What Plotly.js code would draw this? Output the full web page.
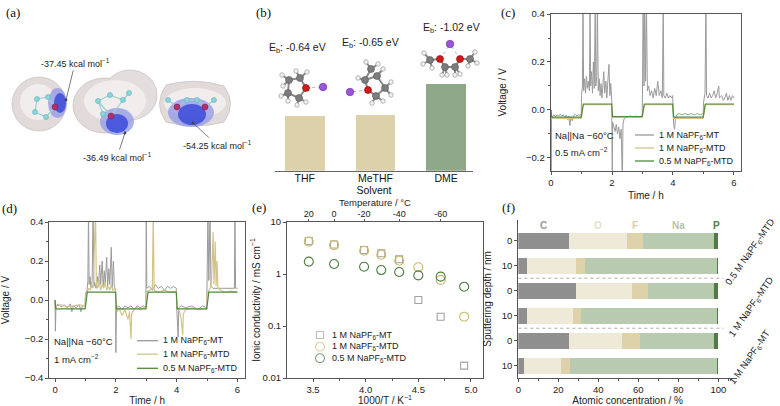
<!DOCTYPE html>
<html><head><meta charset="utf-8">
<script src="https://cdn.plot.ly/plotly-3.0.1.min.js"></script>
<style>html,body{margin:0;padding:0;background:#fff}#chart{width:780px;height:406px}</style>
</head><body><div id="chart"></div>
<script>
// ---------------- DATA ----------------
// (b) binding energies
const solvents = ['THF', 'MeTHF', 'DME'];
const bindingEnergy = [-0.64, -0.65, -1.02];

// series names
const seriesNames = ['1 M NaPF<sub>6</sub>-MT', '1 M NaPF<sub>6</sub>-MTD', '0.5 M NaPF<sub>6</sub>-MTD'];

// (c) Na||Na, 0.5 mA cm-2 : [time h, voltage V]
const c_MT = [[0,0],[0.005,-0.3],[0.015,-0.04],[0.05,-0.025],[0.1,-0.02],[0.15,-0.028],[0.2,-0.02],[0.25,-0.025],[0.3,-0.018],[0.35,-0.025],[0.4,-0.02],[0.45,-0.03],[0.5,-0.022],[0.55,-0.04],[0.58,-0.025],[0.62,-0.065],[0.65,-0.03],[0.7,-0.045],[0.75,-0.022],[0.8,-0.018],[0.85,-0.025],[0.9,-0.02],[0.95,-0.022],[0.99,-0.02],
 [1.0,0.06],[1.03,0.1],[1.05,0.45],[1.07,0.08],[1.1,0.13],[1.13,0.07],[1.16,0.14],[1.19,0.09],[1.22,0.12],[1.26,0.08],[1.28,0.45],[1.3,0.1],[1.33,0.16],[1.36,0.07],[1.39,0.2],[1.42,0.09],[1.45,0.45],[1.47,0.1],[1.5,0.14],[1.52,0.45],[1.55,0.08],[1.58,0.13],[1.61,0.06],[1.64,0.11],[1.67,0.05],[1.7,0.1],[1.73,0.16],[1.76,0.07],[1.8,0.12],[1.83,0.05],[1.86,0.1],[1.9,0.19],[1.93,0.06],[1.96,0.11],[1.99,0.04],
 [2.0,-0.3],[2.01,-0.3],[2.02,-0.05],[2.06,-0.07],[2.1,-0.09],[2.14,-0.06],[2.18,-0.1],[2.22,-0.07],[2.26,-0.12],[2.3,-0.08],[2.34,-0.3],[2.36,-0.06],[2.4,-0.035],[2.5,-0.03],[2.6,-0.025],[2.7,-0.03],[2.8,-0.025],[2.9,-0.03],[2.99,-0.025],
 [3.0,0.08],[3.02,0.45],[3.05,0.1],[3.07,0.45],[3.1,0.12],[3.13,0.45],[3.16,0.08],[3.2,0.1],[3.25,0.06],[3.3,0.08],[3.35,0.05],[3.4,0.09],[3.45,0.06],[3.5,0.12],[3.55,0.06],[3.6,0.08],[3.65,0.05],[3.68,0.45],[3.7,0.06],[3.75,0.05],[3.8,0.07],[3.85,0.05],[3.9,0.06],[3.95,0.05],[3.99,0.06],
 [4.0,-0.02],[4.02,-0.06],[4.05,-0.08],[4.08,-0.04],[4.12,-0.02],[4.2,-0.015],[4.3,-0.02],[4.4,-0.015],[4.5,-0.02],[4.6,-0.015],[4.7,-0.02],[4.8,-0.015],[4.9,-0.02],[4.99,-0.015],
 [5.0,0.03],[5.05,0.07],[5.08,0.45],[5.1,0.06],[5.15,0.05],[5.2,0.07],[5.25,0.05],[5.3,0.06],[5.35,0.08],[5.4,0.05],[5.45,0.07],[5.5,0.1],[5.52,0.05],[5.6,0.06],[5.65,0.04],[5.7,0.05],[5.75,0.07],[5.8,0.04],[5.85,0.06],[5.9,0.04],[5.95,0.06],[6.0,0.05]];
const c_MTD = [[0,0],[0.02,-0.035],[0.99,-0.035],[1.02,0.0],[1.06,0.022],[1.99,0.022],[2.02,-0.03],[2.99,-0.03],[3.02,0.0],[3.06,0.022],[3.99,0.022],[4.02,-0.035],[4.99,-0.035],[5.02,0.0],[5.06,0.022],[6.0,0.022]];
const c_05MTD = [[0,0],[0.02,-0.03],[0.99,-0.03],[1.02,0.005],[1.06,0.025],[1.99,0.025],[2.02,-0.028],[2.99,-0.028],[3.02,0.005],[3.06,0.025],[3.99,0.025],[4.02,-0.03],[4.99,-0.03],[5.02,0.005],[5.06,0.025],[6.0,0.025]];

// (d) Na||Na, 1 mA cm-2 : [time h, voltage V]
const d_MT = [[0,0],[0.01,-0.16],[0.03,-0.03],[0.1,-0.02],[0.2,-0.035],[0.3,-0.025],[0.4,-0.04],[0.5,-0.02],[0.55,-0.06],[0.6,-0.03],[0.7,-0.04],[0.8,-0.025],[0.85,-0.06],[0.9,-0.03],[0.99,-0.03],
 [1.0,0.03],[1.05,0.05],[1.08,0.1],[1.1,0.45],[1.12,0.08],[1.15,0.12],[1.18,0.06],[1.22,0.1],[1.25,0.45],[1.28,0.07],[1.3,0.09],[1.35,0.06],[1.4,0.12],[1.43,0.07],[1.47,0.18],[1.5,0.08],[1.55,0.2],[1.58,0.07],[1.62,0.15],[1.65,0.08],[1.7,0.22],[1.73,0.07],[1.77,0.16],[1.8,0.08],[1.85,0.27],[1.88,0.06],[1.92,0.2],[1.95,0.07],[1.99,0.05],
 [2.0,-0.27],[2.02,-0.04],[2.1,-0.03],[2.2,-0.05],[2.3,-0.03],[2.4,-0.04],[2.5,-0.03],[2.6,-0.05],[2.7,-0.03],[2.8,-0.04],[2.9,-0.03],[2.99,-0.04],
 [3.0,0.45],[3.02,0.06],[3.1,0.07],[3.2,0.05],[3.3,0.08],[3.4,0.06],[3.5,0.07],[3.6,0.05],[3.7,0.07],[3.8,0.06],[3.9,0.07],[3.99,0.06],
 [4.0,-0.03],[4.05,-0.19],[4.07,-0.04],[4.15,-0.03],[4.3,-0.04],[4.5,-0.03],[4.7,-0.05],[4.85,-0.03],[4.99,-0.04],
 [5.0,0.05],[5.03,0.45],[5.06,0.1],[5.1,0.45],[5.13,0.07],[5.2,0.06],[5.5,0.06],[5.9,0.06],[5.92,0.45],[5.94,0.06],[6.0,0.06]];
const d_MTD = [[0,0],[0.01,-0.05],[0.03,-0.03],[0.2,-0.025],[0.4,-0.035],[0.6,-0.03],[0.8,-0.025],[0.99,-0.03],
 [1.0,0.02],[1.05,0.04],[1.1,0.06],[1.15,0.05],[1.2,0.08],[1.25,0.06],[1.3,0.45],[1.33,0.45],[1.36,0.08],[1.4,0.06],[1.45,0.1],[1.5,0.05],[1.55,0.08],[1.6,0.06],[1.65,0.09],[1.7,0.05],[1.75,0.07],[1.8,0.05],[1.85,0.08],[1.9,0.05],[1.99,0.06],
 [2.0,-0.03],[2.05,-0.06],[2.1,-0.04],[2.2,-0.08],[2.3,-0.05],[2.4,-0.1],[2.45,-0.06],[2.5,-0.2],[2.52,-0.07],[2.6,-0.05],[2.7,-0.04],[2.8,-0.05],[2.9,-0.04],[2.99,-0.04],
 [3.0,0.04],[3.1,0.05],[3.2,0.06],[3.23,0.45],[3.26,0.05],[3.4,0.04],[3.6,0.05],[3.8,0.04],[3.99,0.045],
 [4.0,-0.03],[4.1,-0.06],[4.15,-0.1],[4.2,-0.18],[4.22,-0.07],[4.3,-0.05],[4.5,-0.04],[4.7,-0.05],[4.99,-0.045],
 [5.0,0.03],[5.1,0.06],[5.15,0.1],[5.2,0.35],[5.23,0.08],[5.27,0.3],[5.3,0.07],[5.33,0.2],[5.36,0.06],[5.45,0.05],[5.6,0.04],[5.8,0.045],[6.0,0.04]];
const d_05MTD = [[0,0],[0.02,-0.045],[0.99,-0.045],[1.02,0.0],[1.06,0.04],[1.99,0.04],[2.02,-0.045],[2.99,-0.045],[3.02,0.0],[3.06,0.04],[3.99,0.04],[4.02,-0.045],[4.99,-0.045],[5.02,0.0],[5.06,0.04],[6.0,0.04]];

// (e) ionic conductivity
const temperatureC = [20, 0, -20, -30, -40, -50, -60, -70];
const invT = [3.46, 3.70, 3.985, 4.148, 4.318, 4.50, 4.712, 4.935]; // 1000/T, K^-1
const sigma_MT = [4.3, 3.7, 2.9, 2.5, 1.92, 0.316, 0.151, 0.0173];
const sigma_MTD = [4.2, 3.6, 2.8, 2.35, 1.8, 1.35, 0.77, 0.151];
const sigma_05MTD = [1.73, 1.56, 1.38, 1.19, 1.09, 0.94, 0.89, 0.57];
const topTickTemps = [20, 0, -20, -40, -60];

// (f) XPS depth profile, atomic concentration %
const samples = ['0.5 M NaPF<sub>6</sub>-MTD', '1 M NaPF<sub>6</sub>-MTD', '1 M NaPF<sub>6</sub>-MT'];
const depths = ['0', '10'];
const elements = ['C', 'O', 'F', 'Na', 'P'];
const conc_C  = [25.5, 4.2, 28.8, 4.2, 25.3, 2.8];
const conc_O  = [28.7, 24.5, 27.9, 23.3, 26.7, 18.4];
const conc_F  = [8.0, 4.6, 8.0, 3.7, 8.8, 4.6];
const conc_Na = [35.8, 65.9, 33.3, 68.0, 37.2, 73.4];
const conc_P  = [2.0, 0.8, 2.0, 0.8, 2.0, 0.8];

// ---------------- STYLE ----------------
const FONT = 'Liberation Sans, Arial, Helvetica, sans-serif';
const SERIF = 'Liberation Serif, Times New Roman, serif';
const W = 780, H = 406;
const GRAY = '#9a9a9a', TAN = '#d3c48a', GREEN = '#4f8a3c';
const lineColors = [GRAY, TAN, GREEN];
const markColors = ['#a3a3a3', '#cdb96e', '#4c7c40'];
const elemColors = ['#8f8f8f', '#efe9d8', '#ddd2aa', '#b8caaf', '#4f7d45'];
const elemTextColors = ['#9a9a9a', '#e6dfc6', '#d8cca2', '#b3c4a8', '#4f7d45'];
const AX = '#555';
const px2x = p => p / W;
const py2y = p => 1 - p / H;

const baseAxis = {
  showline: true, linecolor: AX, linewidth: 1, mirror: true,
  ticks: 'outside', ticklen: 3, tickcolor: AX, tickwidth: 1,
  showgrid: false, zeroline: false,
  tickfont: {family: FONT, size: 9.5, color: '#222'},
  title: {font: {family: FONT, size: 10, color: '#222'}}
};
function ax(extra) {
  const o = JSON.parse(JSON.stringify(baseAxis));
  for (const k in extra) {
    if (k === 'title') o.title = Object.assign(o.title, extra.title);
    else o[k] = extra[k];
  }
  return o;
}

const traces = [];
// ---- (b) bars
traces.push({
  type: 'bar', x: solvents, y: bindingEnergy.map(Math.abs),
  marker: {color: ['#dcd1aa', '#dcd1aa', '#8fa88a'], line: {width: 0}},
  width: 0.56, xaxis: 'x', yaxis: 'y', showlegend: false, name: 'E_b'
});

// ---- (c), (d) voltage profiles
const cSeries = [c_MT, c_MTD, c_05MTD];
const dSeries = [d_MT, d_MTD, d_05MTD];
cSeries.forEach((s, i) => traces.push({
  type: 'scatter', mode: 'lines', x: s.map(p => p[0]), y: s.map(p => p[1]),
  line: {color: lineColors[i], width: i === 0 ? 1 : 1.2}, xaxis: 'x2', yaxis: 'y2', name: seriesNames[i], showlegend: false
}));
dSeries.forEach((s, i) => traces.push({
  type: 'scatter', mode: 'lines', x: s.map(p => p[0]), y: s.map(p => p[1]),
  line: {color: lineColors[i], width: i === 0 ? 1 : 1.2}, xaxis: 'x3', yaxis: 'y3', name: seriesNames[i], showlegend: false
}));

// ---- (e) conductivity
const eSeries = [sigma_MT, sigma_MTD, sigma_05MTD];
const eSymbols = ['square-open', 'circle-open', 'circle-open'];
const eSizes = [7, 9, 9];
eSeries.forEach((s, i) => traces.push({
  type: 'scatter', mode: 'markers', x: invT, y: s,
  marker: {symbol: eSymbols[i], size: eSizes[i], color: markColors[i], line: {width: 1.1, color: markColors[i]}},
  xaxis: 'x4', yaxis: 'y4', name: seriesNames[i], showlegend: false
}));
// carrier trace so the top temperature axis is drawn
traces.push({type: 'scatter', mode: 'markers', x: invT, y: sigma_05MTD, marker: {opacity: 0, size: 1},
  xaxis: 'x5', yaxis: 'y4', showlegend: false, hoverinfo: 'skip', name: 'Temperature'});

// ---- (f) stacked horizontal bars
const rowIds = [];
samples.forEach((s, si) => depths.forEach(d => rowIds.push(si + '|' + d)));
const concs = [conc_C, conc_O, conc_F, conc_Na, conc_P];
concs.forEach((c, i) => traces.push({
  type: 'bar', orientation: 'h', y: rowIds, x: c, width: 0.65,
  marker: {color: elemColors[i], line: {width: 0}},
  xaxis: 'x6', yaxis: 'y6', name: elements[i], showlegend: false
}));

// ---- illustrations (pixel overlay axis x7/y7)
const molTHF = [[306,88,'O'],[300,78,'C'],[289,80,'C'],[288,93,'C'],[299,98,'C'],[296,71,'H'],[307,72,'H'],[282,75,'H'],[283,86,'H'],[281,96,'H'],[288,101,'H'],[297,105,'H'],[306,102,'H'],[323,87,'Na']];
const bondTHF = [[0,1],[1,2],[2,3],[3,4],[4,0],[1,5],[1,6],[2,7],[2,8],[3,9],[3,10],[4,11],[4,12]];
const molMe = [[368,90,'O'],[365,80,'C'],[377,76,'C'],[385,88,'C'],[376,96,'C'],[371,69,'C'],[366,62,'H'],[378,64,'H'],[358,78,'H'],[383,69,'H'],[391,82,'H'],[391,95,'H'],[372,103,'H'],[383,101,'H'],[350,92,'Na']];
const bondMe = [[0,1],[1,2],[2,3],[3,4],[4,0],[1,5],[5,6],[5,7],[1,8],[2,9],[3,10],[3,11],[4,12],[4,13]];
const molDME = [[440,59,'O'],[460,59,'O'],[430,60,'C'],[445,67,'C'],[455,67,'C'],[470,59,'C'],[424,53,'H'],[423,64,'H'],[432,68,'H'],[442,75,'H'],[447,75,'H'],[455,75,'H'],[460,74,'H'],[475,52,'H'],[477,63,'H'],[468,66,'H'],[450,44,'Na']];
const bondDME = [[0,2],[0,3],[3,4],[4,1],[1,5],[2,6],[2,7],[2,8],[3,9],[3,10],[4,11],[4,12],[5,13],[5,14],[5,15]];
const naBonds = [[molTHF, 0, 13], [molMe, 0, 14], [molDME, 0, 16], [molDME, 1, 16]];
const espAtoms = [[55,107,'O2'],[48,97,'C2'],[37,99,'C2'],[35,112,'C2'],[46,117,'C2'],
  [111,116,'O2'],[98,101,'C2'],[110,95,'C2'],[123,100,'C2'],[103,114,'C2'],[129,93,'C2'],
  [177,107,'O2'],[205,107,'O2'],[168,100,'C2'],[187,100,'C2'],[197,100,'C2'],[214,100,'C2']];
const espBonds = [[0,1],[1,2],[2,3],[3,4],[4,0],[5,6],[6,7],[7,8],[8,5],[6,9],[9,5],[8,10],[11,13],[11,14],[14,15],[15,12],[12,16]];

function bondTrace(mol, bonds, color, width, dash) {
  const x = [], y = [];
  bonds.forEach(b => { x.push(mol[b[0]][0], mol[b[1]][0], null); y.push(mol[b[0]][1], mol[b[1]][1], null); });
  return {type: 'scatter', mode: 'lines', x, y, line: {color, width, dash: dash || 'solid'}, xaxis: 'x7', yaxis: 'y7', showlegend: false, hoverinfo: 'skip'};
}
traces.push(bondTrace(espAtoms, espBonds, '#9ccfd2', 1.2));
[[molTHF, bondTHF], [molMe, bondMe], [molDME, bondDME]].forEach(m => traces.push(bondTrace(m[0], m[1], '#8a8a8a', 2)));
naBonds.forEach(nb => {
  const m = nb[0];
  traces.push({type: 'scatter', mode: 'lines', x: [m[nb[1]][0], m[nb[2]][0]], y: [m[nb[1]][1], m[nb[2]][1]],
    line: {color: '#b0a0c0', width: 0.8, dash: 'dot'}, xaxis: 'x7', yaxis: 'y7', showlegend: false, hoverinfo: 'skip'});
});
const atomStyle = {
  C: {c: '#7d7d7d', s: 7, l: '#555'}, H: {c: '#f2f2f2', s: 4.5, l: '#888'},
  O: {c: '#d21a1a', s: 7, l: '#8a0000'}, Na: {c: '#9a55d8', s: 7.5, l: '#6a2aa8'},
  C2: {c: '#86d8da', s: 5, l: '#6ab'}, O2: {c: '#b3306f', s: 6, l: '#802050'}
};
Object.keys(atomStyle).forEach(el => {
  const all = molTHF.concat(molMe, molDME, espAtoms).filter(a => a[2] === el);
  const st = atomStyle[el];
  traces.push({type: 'scatter', mode: 'markers', x: all.map(a => a[0]), y: all.map(a => a[1]),
    marker: {color: st.c, size: st.s, line: {color: st.l, width: 0.6}}, xaxis: 'x7', yaxis: 'y7', showlegend: false, hoverinfo: 'skip'});
});
// (e) legend markers
traces.push({type: 'scatter', mode: 'markers', x: [320, 320, 320], y: [335, 346.7, 358.3],
  marker: {symbol: eSymbols, size: eSizes, color: markColors, line: {width: 1.1, color: markColors}},
  xaxis: 'x7', yaxis: 'y7', showlegend: false, hoverinfo: 'skip'});

// ---------------- LAYOUT ----------------
const shapes = [];
const annotations = [];
function txt(x, y, text, opt) {
  annotations.push(Object.assign({xref: 'x7', yref: 'y7', x, y, text, showarrow: false,
    font: {family: FONT, size: 9.5, color: '#222'}, xanchor: 'center', yanchor: 'middle'}, opt || {}));
}
[['(a)', 13, 12], ['(b)', 263, 12], ['(c)', 508, 12], ['(d)', 9, 208], ['(e)', 259, 207], ['(f)', 508, 207]]
  .forEach(p => txt(p[1], p[2], p[0], {font: {family: SERIF, size: 13, color: '#111'}}));

// (a) ESP surfaces
function ell(x0, x1, y0, y1, fill, op, line) {
  shapes.push({type: 'circle', xref: 'x7', yref: 'y7', x0, x1, y0, y1, fillcolor: fill, opacity: op,
    line: line ? {color: line, width: 0.7} : {width: 0}, layer: 'below'});
}
ell(12, 66, 77, 131, '#e2d9d9', 1, '#c6bebe');
ell(20, 56, 84, 120, '#f1eded', 1);
ell(48, 67, 88, 118, '#8f97e8', 0.75);
ell(54, 66, 93, 113, '#3344d8', 0.8);
ell(73, 136, 78, 133, '#e2d9d9', 1, '#c6bebe');
ell(103, 157, 70, 120, '#e4dddd', 1, '#c6bebe');
ell(84, 146, 80, 122, '#f1eded', 1);
ell(100, 134, 108, 135, '#8f97e8', 0.75);
ell(106, 128, 114, 133, '#3344d8', 0.8);
shapes.push({type: 'path', xref: 'x7', yref: 'y7', path: 'M 166 85 Q 195 77 224 86 Q 237 104 224 122 Q 195 130 166 122 Q 153 104 166 85 Z', fillcolor: '#e2d9d9', line: {color: '#c6bebe', width: 0.7}, layer: 'below'});
ell(164, 226, 88, 118, '#f1eded', 1);
ell(168, 214, 98, 127, '#8f97e8', 0.75);
ell(178, 206, 104, 125, '#3344d8', 0.8);

const kcal = ' kcal mol<sup>−1</sup>';
function arrowTxt(text, hx, hy, tx, ty) {
  annotations.push({xref: 'x7', yref: 'y7', axref: 'x7', ayref: 'y7', x: hx, y: hy, ax: tx, ay: ty, text,
    showarrow: true, arrowhead: 6, arrowsize: 1, arrowwidth: 0.7, arrowcolor: '#444',
    font: {family: FONT, size: 9, color: '#222'}});
}
arrowTxt('-37.45' + kcal, 66, 100, 75, 63);
arrowTxt('-36.49' + kcal, 125, 133, 117, 157);
arrowTxt('-54.25' + kcal, 193, 123, 217, 145);

// (b) Eb labels
const ebPos = [[297, 48], [370, 43], [451, 28]];
bindingEnergy.forEach((e, i) => txt(ebPos[i][0], ebPos[i][1], 'E<sub>b</sub>: ' + e.toFixed(2) + ' eV', {font: {family: FONT, size: 10.5, color: '#222'}}));

// (c) annotations + legend
txt(553, 135, 'Na||Na −60°C', {xanchor: 'left'});
txt(553, 152, '0.5 mA cm<sup>−2</sup>', {xanchor: 'left'});
const legC = [135, 148, 161];
seriesNames.forEach((n, i) => {
  shapes.push({type: 'line', xref: 'x7', yref: 'y7', x0: 635, x1: 654, y0: legC[i], y1: legC[i], line: {color: lineColors[i], width: 1.3}});
  txt(657, legC[i], n, {xanchor: 'left', font: {family: FONT, size: 9, color: '#222'}});
});
// (d) annotations + legend
txt(52, 341.5, 'Na||Na −60°C', {xanchor: 'left'});
txt(52, 359, '1 mA cm<sup>−2</sup>', {xanchor: 'left'});
const legD = [340.7, 354.2, 368.3];
seriesNames.forEach((n, i) => {
  shapes.push({type: 'line', xref: 'x7', yref: 'y7', x0: 137, x1: 158, y0: legD[i], y1: legD[i], line: {color: lineColors[i], width: 1.3}});
  txt(161, legD[i], n, {xanchor: 'left', font: {family: FONT, size: 9, color: '#222'}});
});
// (e) legend text and top-axis title
const legE = [335, 346.7, 358.3];
seriesNames.forEach((n, i) => txt(330, legE[i], n, {xanchor: 'left', font: {family: FONT, size: 9, color: '#222'}}));
txt(375, 202.5, 'Temperature / °C', {font: {family: FONT, size: 9.5, color: '#222'}});

// (f) element labels centred on the top-row segments
let cum = 0;
concs.forEach((c, i) => {
  annotations.push({xref: 'x6', yref: 'y7', x: cum + c[0] / 2, y: 225, text: elements[i], showarrow: false,
    font: {family: FONT, size: 10, color: elemTextColors[i], weight: 'bold'}});
  cum += c[0];
});
[1.5, 3.5].forEach(yv => shapes.push({type: 'line', xref: 'x6', yref: 'y6', x0: 0, x1: 102.5, y0: yv, y1: yv,
  line: {color: '#aaa', width: 1, dash: 'dot'}}));
const sampPos = [[750, 252], [751, 307], [750, 357]];
samples.forEach((s, i) => txt(sampPos[i][0], sampPos[i][1], s, {textangle: -55, font: {family: FONT, size: 9.5, color: '#222'}}));

const yTopRow = [py2y(170.7), py2y(14)];
const yBotRow = [py2y(378), py2y(222)];
const layout = {
  width: W, height: H, margin: {l: 0, r: 0, t: 0, b: 0},
  paper_bgcolor: '#fff', plot_bgcolor: 'rgba(0,0,0,0)',
  showlegend: false, barmode: 'stack', font: {family: FONT, size: 10, color: '#222'},
  // (b)
  xaxis: {domain: [px2x(275), px2x(473)], anchor: 'y', type: 'category', range: [-0.42, 2.38],
    showline: true, linecolor: '#666', linewidth: 1.2, ticks: '', showgrid: false, zeroline: false, ticklabelstandoff: -3,
    tickfont: {family: FONT, size: 10.5, color: '#111'}, title: {text: 'Solvent', standoff: 0, font: {family: FONT, size: 10.5, color: '#111'}}},
  yaxis: {domain: yTopRow, anchor: 'x', range: [0, 1.843], visible: false},
  // (c)
  xaxis2: ax({domain: [px2x(550.7), px2x(741)], anchor: 'y2', range: [-0.01, 6.23], tick0: 0, dtick: 2,
    minor: {ticks: 'outside', ticklen: 2, dtick: 1, tickcolor: AX}, title: {text: 'Time / h', standoff: 4}}),
  yaxis2: ax({domain: yTopRow, anchor: 'x2', range: [-0.253, 0.4], tick0: 0, dtick: 0.2, tickformat: '.1f',
    minor: {ticks: 'outside', ticklen: 2, dtick: 0.1, tickcolor: AX}, title: {text: 'Voltage / V', standoff: 17}}),
  // (d)
  xaxis3: ax({domain: [px2x(49.3), px2x(245)], anchor: 'y3', range: [-0.19, 6.25], tick0: 0, dtick: 2,
    minor: {ticks: 'outside', ticklen: 2, dtick: 1, tickcolor: AX}, title: {text: 'Time / h', standoff: 2}}),
  yaxis3: ax({domain: yBotRow, anchor: 'x3', range: [-0.4, 0.4], tick0: 0, dtick: 0.2, tickformat: '.1f',
    minor: {ticks: 'outside', ticklen: 2, dtick: 0.1, tickcolor: AX}, title: {text: 'Voltage / V', standoff: 13}}),
  // (e)
  xaxis4: ax({domain: [px2x(287), px2x(483)], anchor: 'y4', range: [3.253, 5.114], tick0: 3.5, dtick: 0.5, tickformat: '.1f',
    mirror: false, minor: {ticks: 'outside', ticklen: 2, dtick: 0.25, tickcolor: AX}, title: {text: '1000/T / K<sup>−1</sup>', standoff: 2}}),
  xaxis5: ax({overlaying: 'x4', anchor: 'y4', side: 'top', range: [3.253, 5.114], mirror: false, ticklen: 2,
    ticklabelstandoff: -2, tickfont: {family: FONT, size: 9, color: '#222'},
    tickvals: topTickTemps.map(t => invT[temperatureC.indexOf(t)]), ticktext: topTickTemps.map(String)}),
  yaxis4: ax({domain: yBotRow, anchor: 'x4', type: 'log', range: [-2, 1],
    tickvals: [0.01, 0.1, 1, 10], ticktext: ['0.01', '0.1', '1', '10'],
    title: {text: 'Ionic conductivity / mS cm<sup>−1</sup>', standoff: 0}}),
  // (f)
  xaxis6: ax({domain: [px2x(518.3), px2x(737)], anchor: 'y6', range: [0, 109.3], mirror: false,
    tickvals: [0, 20, 40, 60, 80, 100], minor: {ticks: 'outside', ticklen: 2, tickvals: [10, 30, 50, 70, 90, 105], tickcolor: AX},
    title: {text: 'Atomic concentration / %', standoff: 2}}),
  yaxis6: ax({domain: [py2y(377.7), py2y(220)], anchor: 'x6', type: 'category', categoryorder: 'array', categoryarray: rowIds,
    range: [5.48, -0.83], mirror: false, tickvals: rowIds, ticktext: rowIds.map(r => r.split('|')[1]),
    title: {text: 'Sputtering depth / nm', standoff: 8}}),
  xaxis7: {domain: [0, 1], anchor: 'y7', range: [0, W], visible: false, fixedrange: true},
  yaxis7: {domain: [0, 1], anchor: 'x7', range: [H, 0], visible: false, fixedrange: true},
  shapes, annotations
};

Plotly.newPlot('chart', traces, layout, {displayModeBar: false, staticPlot: true});
</script>
</body></html>
